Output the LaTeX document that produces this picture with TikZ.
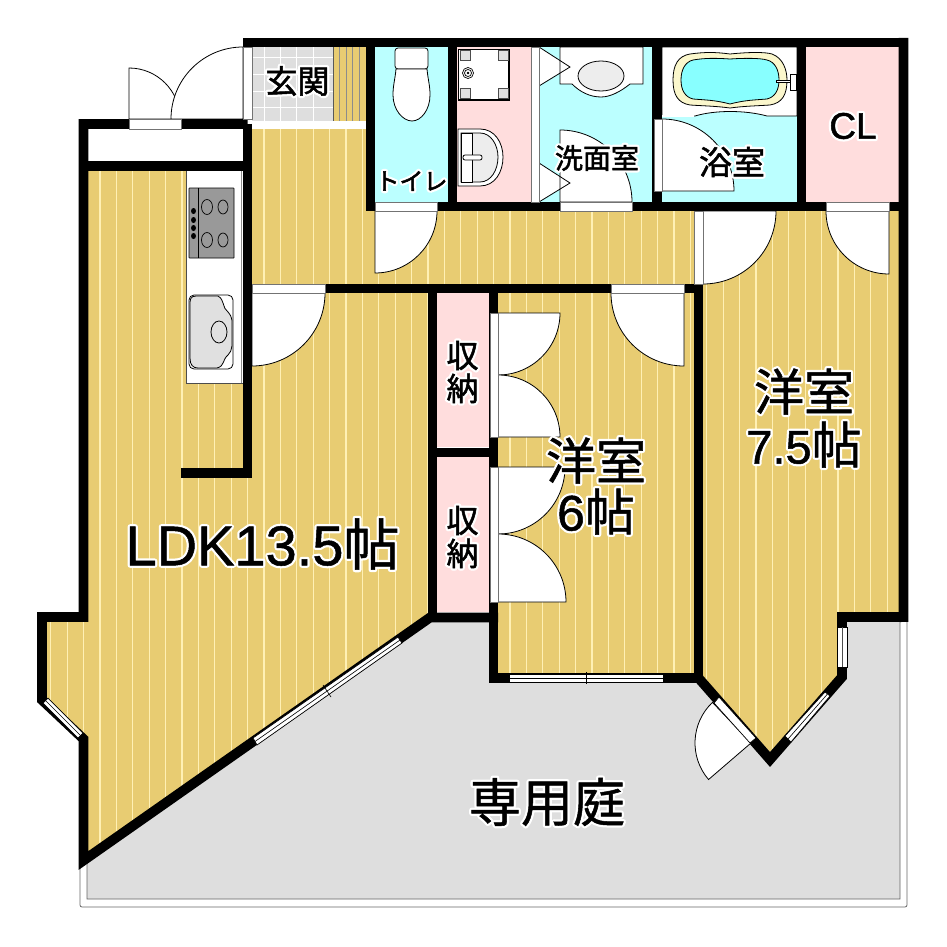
\documentclass[tikz,border=0pt]{standalone}
\usepackage{fontspec}
\setmainfont{Noto Sans CJK JP}
\newfontfamily\latinfont{Liberation Sans}
\definecolor{wood}{HTML}{E8CC72}
\definecolor{woodline}{HTML}{FFF0B4}
\definecolor{wet}{HTML}{BBFFFF}
\definecolor{tubwater}{HTML}{88FFFF}
\definecolor{tubrim}{HTML}{FBF7CC}
\definecolor{store}{HTML}{FFDDDD}
\definecolor{yard}{HTML}{DEDEDE}
\newcommand{\halo}[1]{\leavevmode\rlap{\special{pdf:code q 1 Tr 5 w 1 j 1 1 1 RG}#1\special{pdf:code Q}}\special{pdf:code q 2 Tr .5 w 0 0 0 RG}#1\special{pdf:code Q}}
\tikzset{
  wall/.style={line width=9.8pt,line join=miter},
  gap/.style={fill=white,draw=black!55,line width=.7pt},
  door/.style={fill=white,draw=black,line width=.8pt},
  fixture/.style={fill=white,draw=black,line width=.8pt},
  lbl/.style={inner sep=0pt,align=center,text=black}
}
\begin{document}
\begin{tikzpicture}[x=1pt,y=-1pt]
\useasboundingbox (0,0) rectangle (947,947);
\filldraw[fill=white,draw=black!60,line width=.8pt,rounded corners=2pt]
(80,860)--(80,907)--(907,907)--(907,620)--cycle;
\filldraw[fill=yard,draw=black!60,line width=.8pt]
(87,858)--(433,620)--(900,620)--(900,899)--(87,899)--cycle;
\fill[yard] (252,47) rectangle (333,121);
\foreach \x in {264,280.4,296.8,313.2}
  \draw[white,line width=1pt] (\x,47)--(\x,121);
\foreach \y in {58,75,92,108}
  \draw[white,line width=1pt] (252,\y)--(333,\y);
\fill[wood] (333,47) rectangle (366,121);
\draw[black!65,line width=.6pt] (333,47)--(333,121)--(366,121);
\foreach \x in {339.5,346,352.5,359}
  \draw[black!45,line width=.8pt] (\x,47)--(\x,121);
\fill[wet] (375,47) rectangle (448,202);
\fill[store] (457,47) rectangle (531,202);
\fill[wet] (539,47) rectangle (657,202);
\fill[wet] (662,47) rectangle (797,202);
\fill[store] (806,47) rectangle (899,202);
\fill[store] (437,293) rectangle (489,447);
\fill[store] (437,457) rectangle (489,612);
\begin{scope}
\clip
(88,171)--(243,171)--(243,473)--(252,473)--(252,293)--(428,293)--(428,614)--(88,853)--(88,738)--(47,698)--(47,622)--(88,622)--cycle
(252,129)--(366,129)--(366,211)--(696,211)--(696,285)--(252,285)--cycle
(498,293) rectangle (694,673)
(703,211)--(899,211)--(899,612)--(837,612)--(837,677)--(770,752)--(703,677)--cycle;
\fill[wood] (40,120) rectangle (900,860);
\foreach \i in {-3,...,49}
  \draw[woodline,line width=1.2pt] ({100+16.4*\i},120)--({100+16.4*\i},860);
\end{scope}
\fill[white] (186,171) rectangle (243,383);
\draw[black!70,line width=.7pt] (243,383)--(186,383)--(186,171);
\draw[black!45,line width=.7pt] (241,171)--(241,383);
\filldraw[fill=black!40,draw=black,line width=.7pt,rounded corners=.5pt] (189,188) rectangle (234,258);
\draw[line width=.8pt] (198,188)--(198,258);
\draw[line width=.7pt] (207,207) ellipse (5.5 and 7.5) (223,207) ellipse (5 and 7)
(207,240) ellipse (5.5 and 7.5) (223,240) ellipse (5 and 7);
\foreach \y in {211,220,228,236}
  \fill (193.5,\y) ellipse (2.5 and 3);
\filldraw[fixture,rounded corners=5pt] (189,295) rectangle (233,369);
\filldraw[fill=black!12,draw=black,line width=.8pt] (196,296) .. controls (190,296) and (190,300) .. (190,305)--(190,358) .. controls (190,365) and (193,368) .. (198,368)--(217,368) .. controls (225,366) and (222,360) .. (228,355) .. controls (233,350) and (232,345) .. (232,332) .. controls (232,320) and (233,318) .. (228,312) .. controls (222,308) and (225,300) .. (218,296)--cycle;
\draw[line width=.8pt] (219,332) ellipse (8 and 11);
\filldraw[fixture,rounded corners=3pt] (395,48) rectangle (428,69);
\filldraw[fixture] (396,69) .. controls (395,80) and (393,85) .. (393,95) .. controls (393,110) and (403,121) .. (412,121) .. controls (421,121) and (430,110) .. (430,95) .. controls (430,85) and (428,80) .. (427,69)--cycle;
\filldraw[fixture] (458,49) rectangle (509,100);
\draw[line width=1.4pt] (458,100)--(509,100)--(509,49);
\foreach \x/\y in {460/50,498/50,460/88,498/88}
  \filldraw[fill=black!12,draw=black!70,line width=.5pt] (\x,\y) rectangle ++(10,10);
\draw[line width=.7pt] (468,73) circle (5.5) (468,73) circle (3.5);
\filldraw[fill=black,draw=black] (468,73) circle (1);
\filldraw[fixture] (458,129)--(480,129) .. controls (495,129) and (503,143) .. (503,157) .. controls (503,172) and (495,186) .. (480,186)--(458,186)--cycle;
\filldraw[fill=black!7,draw=black,line width=.8pt] (461,133)--(480,133) .. controls (491,133) and (498,145) .. (498,157) .. controls (498,170) and (491,182) .. (480,182)--(461,182)--cycle;
\filldraw[fixture] (461,133) rectangle (472,182);
\filldraw[fixture,rounded corners=2pt] (463,155) rectangle (482,160);
\fill[white] (539,47)--(570,67)--(539,86)--cycle (539,163)--(570,183)--(539,202)--cycle;
\filldraw[fixture] (560,47)--(643,47)--(643,84)--(630,84) .. controls (620,92) and (610,97) .. (601,97) .. controls (590,97) and (580,92) .. (572,84)--(560,84)--cycle;
\filldraw[fill=black!7,draw=black,line width=.8pt] (601,76) ellipse (23 and 15);
\filldraw[fixture] (662,47)--(797,47)--(797,116)--(767,116) .. controls (745,110) and (715,110) .. (695,116)--(662,116)--cycle;
\draw[white,line width=1.5pt] (661,116)--(694,116);
\filldraw[fill=tubrim,draw=black,line width=.8pt]
(730,54) .. controls (750,52) and (765,52) .. (772,54) .. controls (783,58) and (787,70) .. (787,80) .. controls (787,95) and (782,103) .. (770,105) .. controls (755,106) and (745,106) .. (730,108) .. controls (715,106) and (705,106) .. (690,105) .. controls (678,103) and (673,95) .. (673,80) .. controls (673,65) and (678,56) .. (690,54) .. controls (705,52) and (715,52) .. (730,54)--cycle;
\filldraw[fill=tubwater,draw=black,line width=.8pt]
(730,59) .. controls (745,58) and (760,58) .. (767,60) .. controls (775,62) and (779,70) .. (779,80) .. controls (779,90) and (775,97) .. (767,99) .. controls (755,100) and (745,100) .. (730,104) .. controls (715,100) and (705,100) .. (693,99) .. controls (685,97) and (681,90) .. (681,80) .. controls (681,70) and (685,62) .. (693,60) .. controls (705,58) and (715,58) .. (730,59)--cycle;
\filldraw[fixture,line width=.6pt] (776,80) rectangle (790,82.5);
\filldraw[fixture,line width=.6pt] (790,74) rectangle (796,90);
\draw[wall] (903.5,42.5)--(243,42.5);
\draw[wall] (247.5,124)--(83.5,124)--(83.5,617)--(42,617)--(42,700)--(83.5,739)--(83.5,860.5)--(430,617.5)--(498,617.5);
\draw[wall] (903.5,38)--(903.5,617)--(842,617)--(842,677)--(770,759.5)--(698.5,678)--(498,678);
\draw[wall] (370.5,42.5)--(370.5,206.5);
\draw[wall] (452.5,42.5)--(452.5,206.5);
\draw[wall] (657,42.5)--(657,206.5);
\draw[wall] (801.5,42.5)--(801.5,206.5);
\draw[wall] (366,206.5)--(903.5,206.5);
\draw[wall] (79,166)--(252,166);
\draw[wall] (247.5,124)--(247.5,473)--(181,473);
\draw[wall] (252,288.5)--(703,288.5);
\draw[wall] (698.5,206.5)--(698.5,678);
\draw[wall] (432.5,288.5)--(432.5,617);
\draw[wall] (493.5,288.5)--(493.5,683);
\draw[wall] (432.5,452.5)--(493.5,452.5);
\foreach \cx/\cy/\r/\a/\b in {129/119/51/-90/0,243/119/72/-90/-180,252/293/73/0/90,375/211/62/0/90,
  662/191/72/-90/0,560/202/72/-90/0,703/211/73/0/90,889/211/63/180/90,684/293/73/180/90,
  498/313/62/0/90,498/437/62/-90/0,498/467/67/0/90,498/602/68/-90/0,751/743/56/139.3/226.5}
  \filldraw[door] (\cx,\cy)--++(\a:\r) arc[start angle=\a,end angle=\b,radius=\r]--cycle;
\draw[line width=.8pt] (539,47)--(570,67)--(539,86) (539,163)--(570,183)--(539,202);
\foreach \xa/\ya/\xb/\yb in {129/119/181/129,243/47/252/119,252/284/325/293,375/202/437/211,531/47/539/202,
  560/202/632/211,654/119/662/191,694/211/703/284,826/202/889/211,611/284/684/293,490/313/498/437,490/467/498/602}
  \filldraw[gap] (\xa,\ya) rectangle (\xb,\yb);
\fill[white] (252,121) rectangle (366,129);
\filldraw[gap,draw=black] (509,674) rectangle (663,682);
\draw[line width=.7pt] (509,678)--(663,678) (586,672)--(586,684);
\filldraw[gap,draw=black] (837,627) rectangle (847,667);
\draw[black!70,line width=.7pt] (842,627)--(842,667);
\filldraw[gap,draw=black] (785,736)--(791,742)--(830,696)--(825,692)--cycle;
\draw[line width=.6pt] (788,739)--(827.5,694);
\filldraw[gap,draw=black] (714,703)--(719,697)--(756,738)--(750,743)--cycle;
\filldraw[gap,draw=black] (253,738)--(257,745)--(402,643)--(398,637)--cycle;
\draw[line width=.6pt] (255,741.5)--(400,640) (323,685)--(331,697);
\filldraw[gap,draw=black] (43,703)--(48,698)--(83,733)--(78,738)--cycle;
\draw[line width=.6pt] (45.5,700.5)--(80.5,735.5);
\node (genkan) at (297.5,81) [lbl,font=\fontsize{32}{32}\selectfont] {\halo{玄関}};
\node (toilet) at (411.5,181) [lbl,font=\fontsize{24}{24}\selectfont] {\halo{トイレ}};
\node (senmen) at (597,158) [lbl,font=\fontsize{28}{28}\selectfont] {\halo{洗面室}};
\node (yokushitsu) at (732,162) [lbl,font=\fontsize{33}{33}\selectfont] {\halo{浴室}};
\node (closet) at (853,126) [lbl,font=\fontsize{37}{37}\latinfont] {\halo{CL}};
\node (shuno1) at (462.5,372) [lbl,font=\fontsize{32}{33}\selectfont] {\halo{収}\\\halo{納}};
\node (shuno2) at (462.5,537) [lbl,font=\fontsize{32}{33}\selectfont] {\halo{収}\\\halo{納}};
\node (yoshitsu6) at (596,486) [lbl,font=\fontsize{50}{51}\selectfont] {\halo{洋室}\\\halo{{\latinfont 6}帖}};
\node (yoshitsu7) at (804,418) [lbl,font=\fontsize{50}{53}\selectfont] {\halo{洋室}\\\halo{{\latinfont\fontsize{47}{47}\selectfont 7.5}帖}};
\node (ldk) at (262.5,544) [lbl,font=\fontsize{56}{56}\selectfont] {\halo{{\latinfont LDK13.5}帖}};
\node (niwa) at (547,802) [lbl,font=\fontsize{52}{52}\selectfont] {\halo{専用庭}};
\end{tikzpicture}
\end{document}
